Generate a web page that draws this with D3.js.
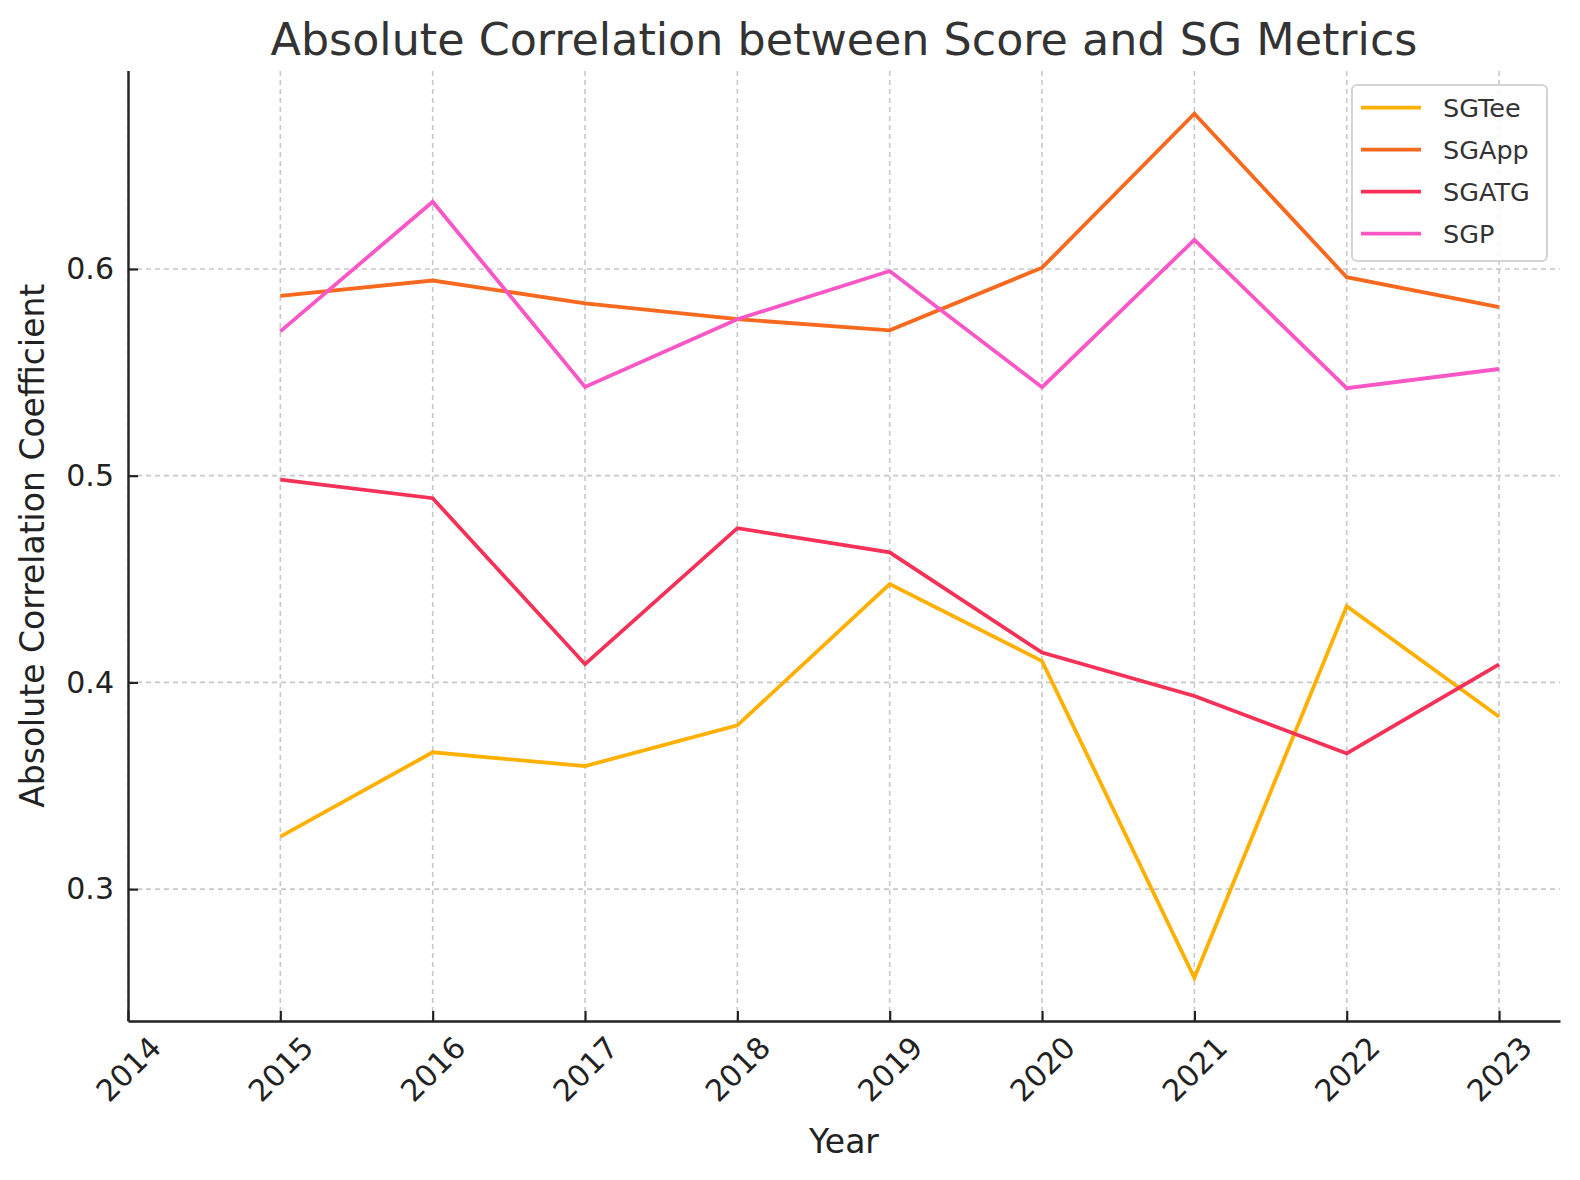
<!DOCTYPE html>
<html>
<head>
<meta charset="utf-8">
<script src="https://cdn.jsdelivr.net/npm/d3@7"></script>
<style>
  html, body { margin: 0; padding: 0; background: #fff; }
  svg { display: block; font-family: "DejaVu Sans", sans-serif; }
</style>
</head>
<body>
<svg id="chart" width="1580" height="1180"></svg>
<script>
const years = [2015, 2016, 2017, 2018, 2019, 2020, 2021, 2022, 2023];
const xTickLabels = [2014, 2015, 2016, 2017, 2018, 2019, 2020, 2021, 2022, 2023];
const yTickValues = [0.3, 0.4, 0.5, 0.6];

const sgTee  = [0.3254, 0.3662, 0.3595, 0.3792, 0.4476, 0.4103, 0.2571, 0.4369, 0.3834];
const sgApp  = [0.5870, 0.5944, 0.5834, 0.5757, 0.5703, 0.6006, 0.6751, 0.5960, 0.5815];
const sgATG  = [0.4981, 0.4891, 0.4088, 0.4746, 0.4629, 0.4144, 0.3934, 0.3656, 0.4087];
const sgP    = [0.5698, 0.6325, 0.5429, 0.5757, 0.5990, 0.5428, 0.6141, 0.5423, 0.5516];

const seriesNames = ["SGTee", "SGApp", "SGATG", "SGP"];
const seriesColors = ["#FFB000", "#F7691E", "#F53157", "#FA57C6"];
const seriesValues = [sgTee, sgApp, sgATG, sgP];

const FONT = '"DejaVu Sans", sans-serif';
const svg = d3.select("#chart");
const W = 1580, H = 1180;
const m = { left: 128, right: 20, top: 70.5, bottom: 159 };
const x0 = m.left, x1 = W - m.right, y0 = H - m.bottom, y1 = m.top;

const allVals = seriesValues.flat();
const vMin = d3.min(allVals), vMax = d3.max(allVals);
const pad = (vMax - vMin) * 0.05;

const x = d3.scaleLinear().domain([2014, 2023.4]).range([x0, x1]);
const y = d3.scaleLinear().domain([vMin - pad, vMax + pad]).range([y0, y1]);

// grid
const grid = svg.append("g");
grid.selectAll("line.gx").data(xTickLabels).enter().append("line")
  .attr("x1", d => x(d)).attr("x2", d => x(d)).attr("y1", y0).attr("y2", y1)
  .attr("stroke", "#c8c8c8").attr("stroke-width", 1.6).attr("stroke-dasharray", "5,4");
grid.selectAll("line.gy").data(yTickValues).enter().append("line")
  .attr("x1", x0).attr("x2", x1).attr("y1", d => y(d)).attr("y2", d => y(d))
  .attr("stroke", "#c8c8c8").attr("stroke-width", 1.6).attr("stroke-dasharray", "5,4");

// lines
const line = d3.line().x((d, i) => x(years[i])).y(d => y(d));
seriesValues.forEach((vals, k) => {
  svg.append("path").datum(vals)
    .attr("d", line)
    .attr("fill", "none")
    .attr("stroke", seriesColors[k])
    .attr("stroke-width", 3.8)
    .attr("stroke-linejoin", "miter")
    .attr("stroke-linecap", "butt");
});

// axes
const xAxis = d3.axisBottom(x).tickValues(xTickLabels).tickFormat(d3.format("d"))
  .tickSizeInner(-10).tickSizeOuter(0).tickPadding(0);
const gx = svg.append("g").attr("transform", `translate(0,${y0})`).call(xAxis)
  .attr("font-family", FONT).attr("font-size", 30);
gx.select(".domain").attr("stroke", "#222").attr("stroke-width", 2.4);
gx.selectAll(".tick line").attr("stroke", "#222").attr("stroke-width", 2.2);
gx.selectAll(".tick text")
  .attr("font-size", 30).attr("fill", "#222")
  .attr("text-anchor", "middle").attr("dominant-baseline", "central")
  .attr("y", 0).attr("dy", null)
  .attr("transform", "translate(0,48) rotate(-45)");

const yAxis = d3.axisLeft(y).tickValues(yTickValues).tickFormat(d3.format(".1f"))
  .tickSizeInner(-10).tickSizeOuter(0).tickPadding(14);
const gy = svg.append("g").attr("transform", `translate(${x0},0)`).call(yAxis)
  .attr("font-family", FONT).attr("font-size", 30);
gy.select(".domain").attr("stroke", "#222").attr("stroke-width", 2.4);
gy.selectAll(".tick line").attr("stroke", "#222").attr("stroke-width", 2.2);
gy.selectAll(".tick text").attr("font-size", 30).attr("fill", "#222");

// labels
svg.append("text").attr("x", 844).attr("y", 55)
  .attr("text-anchor", "middle").attr("font-size", 44.4).attr("fill", "#333")
  .text("Absolute Correlation between Score and SG Metrics");
svg.append("text").attr("x", 844).attr("y", 1153)
  .attr("text-anchor", "middle").attr("font-size", 33).attr("fill", "#222")
  .text("Year");
svg.append("text")
  .attr("transform", `translate(44,${(y0 + y1) / 2}) rotate(-90)`)
  .attr("text-anchor", "middle").attr("font-size", 33).attr("fill", "#222")
  .text("Absolute Correlation Coefficient");

// legend
const lg = svg.append("g");
lg.append("rect").attr("x", 1352).attr("y", 85).attr("width", 195).attr("height", 176)
  .attr("rx", 5).attr("fill", "#fff").attr("fill-opacity", 0.85)
  .attr("stroke", "#d4d4d4").attr("stroke-width", 2);
seriesNames.forEach((name, k) => {
  const cy = 107.7 + k * 42;
  lg.append("line").attr("x1", 1361).attr("x2", 1421).attr("y1", cy).attr("y2", cy)
    .attr("stroke", seriesColors[k]).attr("stroke-width", 3.8);
  lg.append("text").attr("x", 1443).attr("y", cy + 9)
    .attr("font-size", 25.5).attr("fill", "#333").text(name);
});
</script>
</body>
</html>
